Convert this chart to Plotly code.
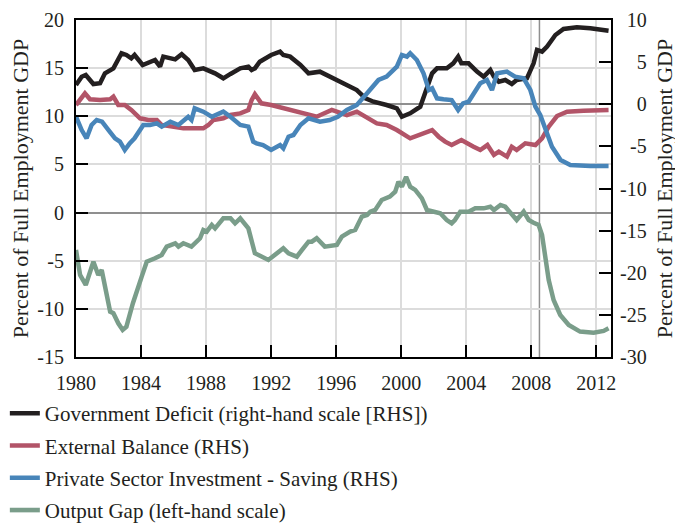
import plotly.graph_objects as go

# ---------------- data ----------------
gov_years = [1980.0, 1980.35, 1980.6, 1981.07, 1981.48, 1981.78, 1982.3, 1982.8, 1983.1, 1983.4,
             1983.6, 1984.1, 1984.86, 1985.17, 1985.37, 1986.1, 1986.5, 1986.9, 1987.3, 1987.83,
             1988.55, 1989.06, 1989.5, 1990.1, 1990.6, 1990.8, 1991.0, 1991.3, 1992.0, 1992.55,
             1992.75, 1993.17, 1993.8, 1994.3, 1995.0, 1995.83, 1996.66, 1997.27, 1997.8, 1998.3,
             1999.1, 1999.73, 2000.04, 2000.55, 2001.17, 2001.48, 2001.9, 2002.2, 2002.6, 2002.8,
             2003.2, 2003.5, 2003.7, 2004.14, 2004.66, 2005.07, 2005.48, 2005.7, 2006.0, 2006.4,
             2006.8, 2007.1, 2007.73, 2008.14, 2008.35, 2008.66, 2008.97, 2009.48, 2009.98, 2010.8,
             2011.63, 2012.75]
gov_deficit = [2.28, 3.27, 3.47, 2.4, 2.49, 3.67, 4.26, 6.05, 5.85, 5.45,
               5.85, 4.66, 5.25, 4.46, 5.65, 5.33, 5.93, 5.25, 4.07, 4.26,
               3.67, 3.08, 3.6, 4.26, 4.46, 4.07, 4.26, 5.05, 5.85, 6.24,
               5.85, 5.65, 4.66, 3.67, 3.87, 3.08, 2.28, 1.69, 0.7, 0.3,
               -0.09, -0.48, -1.48, -1.08, -0.29, 1.3, 3.67, 4.26, 4.26, 4.26,
               4.86, 5.65, 4.86, 4.86, 3.87, 3.27, 4.07, 3.27, 2.68, 2.88,
               2.4, 2.88, 3.08, 4.86, 6.44, 6.24, 6.84, 8.22, 8.93, 9.13,
               9.01, 8.73]

ext_years = [1980.0, 1980.55, 1980.86, 1981.48, 1982.1, 1982.3, 1982.6, 1983.0, 1983.4, 1983.94,
             1984.45, 1984.97, 1985.27, 1985.9, 1986.6, 1987.83, 1988.14, 1988.45, 1989.06, 1989.5,
             1990.1, 1990.6, 1990.8, 1991.0, 1991.4, 1992.0, 1992.75, 1993.37, 1994.0, 1994.8,
             1995.73, 1996.66, 1997.27, 1997.8, 1998.5, 1999.1, 1999.73, 2000.55, 2001.17, 2001.9,
             2002.3, 2002.7, 2003.1, 2003.7, 2004.45, 2004.86, 2005.3, 2005.7, 2006.0, 2006.5,
             2006.8, 2007.1, 2007.63, 2008.25, 2008.66, 2009.07, 2009.58, 2010.2, 2011.2, 2012.75]
ext_balance = [-0.09, 1.3, 0.59, 0.5, 0.59, 0.9, -0.09, -0.09, -0.68, -1.67,
               -1.87, -1.87, -2.46, -2.66, -2.86, -2.86, -2.46, -1.87, -1.67, -1.28,
               -1.08, -0.68, 0.5, 1.2, 0.11, -0.09, -0.48, -0.68, -1.08, -1.48,
               -0.68, -1.28, -0.88, -1.48, -2.27, -2.46, -3.06, -4.04, -3.65, -3.06,
               -3.85, -4.44, -4.84, -4.24, -5.04, -5.43, -4.84, -6.02, -5.63, -6.22,
               -5.04, -5.43, -4.64, -4.84, -4.04, -2.66, -1.4, -0.88, -0.76, -0.68]

priv_years = [1980.0, 1980.35, 1980.65, 1980.96, 1981.27, 1981.6, 1982.0, 1982.4, 1982.7, 1983.0,
              1983.3, 1983.6, 1984.14, 1984.55, 1984.97, 1985.27, 1985.8, 1986.3, 1986.9, 1987.1,
              1987.3, 1987.83, 1988.35, 1989.06, 1989.5, 1990.1, 1990.6, 1990.9, 1991.1, 1991.5,
              1992.0, 1992.55, 1992.75, 1993.07, 1993.37, 1993.8, 1994.3, 1995.0, 1995.6, 1996.1,
              1996.66, 1997.27, 1997.9, 1998.6, 1999.1, 1999.73, 2000.04, 2000.35, 2000.55, 2000.96,
              2001.37, 2001.7, 2001.9, 2002.2, 2002.6, 2003.1, 2003.5, 2003.8, 2004.14, 2004.45,
              2004.86, 2005.27, 2005.58, 2005.9, 2006.5, 2007.0, 2007.53, 2007.94, 2008.25, 2008.55,
              2008.86, 2009.27, 2009.8, 2010.4, 2011.63, 2012.75]
priv_inv_saving = [-1.48, -3.06, -4.04, -2.46, -1.87, -2.07, -3.06, -4.04, -4.44, -5.43,
                   -4.64, -4.04, -2.46, -2.46, -2.27, -2.66, -2.07, -2.46, -1.48, -1.87,
                   -0.48, -0.88, -1.48, -0.88, -1.48, -2.46, -2.66, -4.44, -4.64, -4.84,
                   -5.43, -4.84, -5.23, -3.85, -3.65, -2.46, -1.67, -2.07, -1.87, -1.48,
                   -0.68, -0.09, 1.3, 2.88, 3.27, 4.46, 5.85, 5.65, 6.05, 5.25,
                   3.67, 1.69, 1.89, 0.7, 0.6, 0.5, -0.68, 0.1, 0.3, 1.3,
                   2.49, 2.88, 1.69, 3.67, 3.87, 3.27, 3.08, 1.69, -0.29, -1.28,
                   -3.06, -5.04, -6.62, -7.21, -7.33, -7.33]

gap_years = [1980.0, 1980.25, 1980.6, 1981.07, 1981.37, 1981.58, 1982.1, 1982.3, 1982.6, 1982.87,
             1983.1, 1983.5, 1984.04, 1984.35, 1984.86, 1985.27, 1985.58, 1986.1, 1986.3, 1986.6,
             1987.1, 1987.63, 1987.83, 1988.04, 1988.35, 1988.55, 1989.06, 1989.5, 1989.78, 1990.1,
             1990.6, 1991.0, 1991.83, 1992.75, 1993.07, 1993.58, 1993.9, 1994.3, 1994.5, 1994.8,
             1995.3, 1996.04, 1996.35, 1996.86, 1997.17, 1997.58, 1997.9, 1998.1, 1998.4, 1998.8,
             1999.3, 1999.63, 1999.83, 2000.04, 2000.3, 2000.55, 2000.86, 2001.27, 2001.58, 2001.9,
             2002.4, 2002.8, 2003.1, 2003.3, 2003.63, 2004.14, 2004.55, 2005.07, 2005.48, 2005.7,
             2006.1, 2006.4, 2006.8, 2007.1, 2007.53, 2007.84, 2008.14, 2008.45, 2008.66, 2008.86,
             2009.07, 2009.37, 2009.78, 2010.3, 2011.0, 2011.83, 2012.45, 2012.75]
output_gap = [-3.88, -6.48, -7.52, -5.1, -6.48, -5.96, -10.29, -10.45, -11.5, -12.19,
              -11.85, -9.42, -6.65, -5.1, -4.75, -4.4, -3.54, -3.19, -3.54, -3.19,
              -3.54, -2.67, -1.81, -1.98, -1.29, -1.64, -0.6, -0.6, -1.12, -0.6,
              -1.64, -4.23, -4.92, -3.71, -4.23, -4.58, -3.88, -3.02, -3.02, -2.67,
              -3.54, -3.36, -2.5, -1.98, -1.81, -0.42, -0.25, 0.09, 0.27, 1.31,
              1.65, 2.17, 3.21, 2.69, 3.7, 2.69, 2.35, 1.48, 0.27, 0.09,
              -0.07, -0.77, -1.12, -0.77, 0.09, 0.09, 0.44, 0.44, 0.61, 0.27,
              0.79, 0.61, -0.25, -0.77, 0.09, -0.77, -1.05, -1.29, -2.33, -4.58,
              -7.0, -9.08, -10.63, -11.67, -12.36, -12.47, -12.29, -12.02]

series_names = ["Government Deficit (right-hand scale [RHS])",
                "External Balance (RHS)",
                "Private Sector Investment - Saving (RHS)",
                "Output Gap (left-hand scale)"]
x_ticks = [1980, 1984, 1988, 1992, 1996, 2000, 2004, 2008, 2012]
left_ticks = [20, 15, 10, 5, 0, -5, -10, -15]
right_ticks = [10, 5, 0, -5, -10, -15, -20, -25, -30]
crisis_year = 2008.5
y_title = "Percent of Full Employment GDP"

# ---------------- styling ----------------
FONT = "Liberation Serif, Times New Roman, serif"
TXT = "#231f20"
colors = ["#231f20", "#b25468", "#4885b9", "#7a9d8a"]
GRID = "#dcdcdc"
ZERO = "#8f8f8f"


def pad_label(v):
    s = str(v)
    # right-align right-hand labels by padding with typographic spaces
    width = (0.333 if s.startswith("-") else 0) + 0.5 * len(s.lstrip("-"))
    need = 1.333 - width
    pad = ""
    while need > 0.45:
        pad += "\u2007"
        need -= 0.5
    if need > 0.2:
        pad += "\u2004"
    return pad + s


fig = go.Figure()
data = [(gov_years, gov_deficit, "y2"), (ext_years, ext_balance, "y2"),
        (priv_years, priv_inv_saving, "y2"), (gap_years, output_gap, "y")]
for i, (xs, ys, ax) in enumerate(data):
    fig.add_trace(go.Scatter(x=xs, y=ys, yaxis=ax, mode="lines", name=series_names[i],
                             legendgroup=str(i),
                             line=dict(color=colors[i], width=4.5)))

fig.add_vline(x=crisis_year, line=dict(color=ZERO, width=1.5), layer="below")

common_ticks = dict(ticks="inside", ticklen=12, tickwidth=2, tickcolor="black",
                    showline=True, linecolor="black", linewidth=2,
                    automargin=False, tickfont=dict(size=20))

# the page adds an 8px body margin, so margins are offset to put the plot
# area at x 76..611, y 20..357 of the window
fig.update_layout(
    width=683, height=526,
    margin=dict(l=68, r=80, t=12, b=177, autoexpand=False),
    paper_bgcolor="white", plot_bgcolor="white",
    font=dict(family=FONT, size=20, color=TXT),
    showlegend=True,
    legend=dict(x=-0.133, y=-0.107, xanchor="left", yanchor="top",
                font=dict(family=FONT, size=21, color=TXT),
                tracegroupgap=2, itemwidth=30, bgcolor="rgba(0,0,0,0)"),
    xaxis=dict(range=[1980, 2012.9], tickvals=x_ticks, ticktext=[str(t) for t in x_ticks],
               showgrid=True, gridcolor=GRID, gridwidth=2, mirror=True,
               zeroline=False, ticklabelstandoff=7, **common_ticks),
    yaxis=dict(range=[-15, 20], tickvals=left_ticks, ticktext=[str(t) for t in left_ticks],
               showgrid=True, gridcolor=GRID, gridwidth=2,
               zeroline=True, zerolinecolor=ZERO, zerolinewidth=2,
               ticklabelstandoff=6,
               title=dict(text=y_title, font=dict(size=22), standoff=5),
               **common_ticks),
    yaxis2=dict(range=[-30, 10], tickvals=right_ticks, ticktext=[pad_label(t) for t in right_ticks],
                overlaying="y", side="right", showgrid=False,
                zeroline=True, zerolinecolor=ZERO, zerolinewidth=2,
                ticklabelstandoff=3,
                title=dict(text=y_title, font=dict(size=22), standoff=11),
                **common_ticks),
)

fig.write_html("out.html")
